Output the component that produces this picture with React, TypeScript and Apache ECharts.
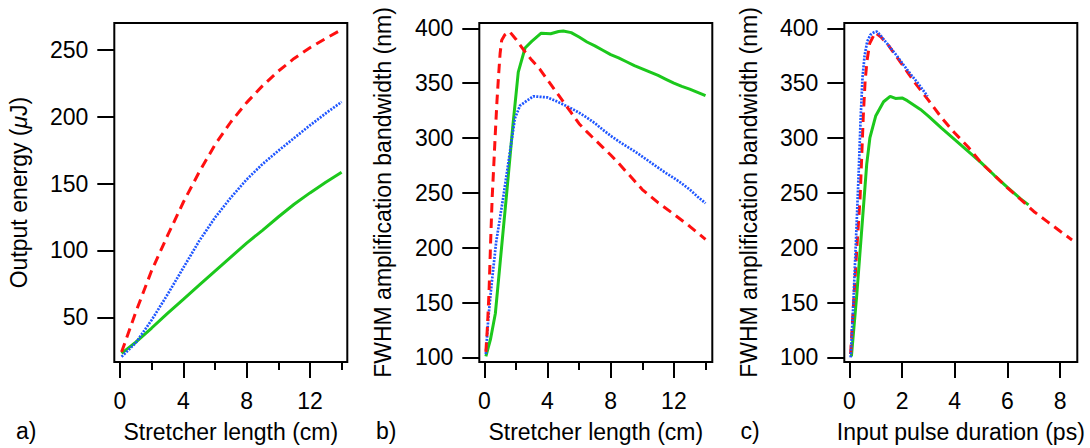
import React, { useEffect, useRef } from "react";
import * as echarts from "echarts";

// ---------- Panel a: output energy vs stretcher length ----------
const aX = [0.1, 1, 2, 3, 4, 5, 6, 7, 8, 9, 10, 11, 12, 13, 14];
const aRed = [24, 54, 85, 111, 136, 158.5, 179, 196, 210.5, 223, 234, 243.5, 251.5, 258.5, 265];
const aBlue = [20.5, 31, 48, 67, 87, 107, 124.5, 139.5, 153, 164.5, 174.5, 184, 193.5, 202.5, 211];
const aGreen = [23, 31.5, 42, 53, 63.5, 74, 84.5, 95, 105.5, 115, 125, 134.5, 143, 151, 158.5];

// ---------- Panel b: FWHM bandwidth vs stretcher length ----------
const bRedX = [0.1, 0.2, 0.3, 0.4, 0.5, 0.6, 0.7, 0.8, 0.9, 1.0, 1.1, 1.3, 1.6, 2.0, 2.5, 3.0, 3.5, 4.0, 4.5, 5.0, 5.5, 6.0, 6.5, 7.0, 7.5, 8.0, 8.5, 9.0, 9.5, 10, 11, 12, 13, 14];
const bRed = [105, 128, 160, 205, 246, 275, 305, 333, 356, 377, 389, 394, 397, 390, 380, 371, 363, 353, 343, 333, 323, 313, 305.5, 298.5, 291.5, 284.5, 277, 269, 261, 253, 241, 230.5, 219.5, 207.5];
const bBlueX = [0.1, 0.25, 0.45, 0.75, 1.2, 1.63, 1.94, 2.26, 2.7, 3.1, 3.5, 4.0, 4.5, 5.0, 5.5, 6.0, 6.5, 7.0, 7.5, 8.0, 8.5, 9.0, 9.5, 10, 10.5, 11, 11.5, 12, 12.5, 13, 13.5, 14];
const bBlue = [103, 135, 165, 205, 246, 288, 318, 329.5, 334, 338, 337.5, 337, 334, 330.5, 327, 323, 318.5, 313.5, 307.5, 302, 297, 292.5, 288, 283, 278, 273, 268, 263.5, 258.5, 253, 246.5, 240.5];
const bGreenX = [0.1, 0.4, 0.7, 1.0, 1.4, 1.8, 2.15, 2.58, 3.0, 3.6, 4.2, 4.7, 5.0, 5.5, 6.0, 6.5, 7.0, 7.5, 8.0, 8.5, 9.0, 9.5, 10, 10.5, 11, 11.5, 12, 12.5, 13, 13.5, 14];
const bGreen = [101, 117, 140, 186, 247, 310, 360, 382, 388, 395.5, 395, 397, 397.5, 396, 392, 387.5, 384, 380, 376, 373, 369.5, 366, 363, 360, 357, 353.5, 350, 347, 344.5, 341.5, 338.5];

// ---------- Panel c: FWHM bandwidth vs input pulse duration ----------
const cRedX = [0.05, 0.2, 0.3, 0.41, 0.53, 0.6, 0.67, 0.77, 0.98, 1.2, 1.5, 2.0, 2.5, 3.0, 3.5, 4.0, 4.5, 5.0, 5.5, 6.0, 6.5, 7.0, 7.5, 8.0, 8.45];
const cRed = [103, 165, 205, 246, 320, 352, 370, 386, 396, 392, 384, 367, 350, 334.5, 318.5, 304.5, 292, 277.5, 266, 254.5, 244, 233, 224, 215, 207];
const cBlueX = [0.05, 0.15, 0.25, 0.35, 0.43, 0.5, 0.58, 0.68, 0.8, 0.95, 1.05, 1.2, 1.5, 1.8, 2.2, 2.6, 2.97];
const cBlue = [100, 147, 205, 265, 318, 355, 375, 388, 394, 396.5, 397, 393, 384, 375, 362, 350, 338];
const cGreenX = [0.08, 0.28, 0.47, 0.66, 0.78, 1.0, 1.3, 1.55, 1.75, 2.0, 2.2, 2.7, 3.0, 3.5, 4.0, 4.5, 5.0, 5.5, 6.0, 6.5, 6.8];
const cGreen = [101, 156, 216, 276, 300, 320, 333, 338, 336, 336.5, 334, 326, 320, 309, 298.5, 288, 277.5, 266, 255, 244.5, 239];

// ---------- Axis ticks / labels ----------
const abXTicks = [0, 4, 8, 12];
const abXMinor = [2, 6, 10, 14];
const cXTicks = [0, 2, 4, 6, 8];
const aYTicks = [50, 100, 150, 200, 250];
const bcYTicks = [100, 150, 200, 250, 300, 350, 400];

const xTitleAB = "Stretcher length (cm)";
const xTitleC = "Input pulse duration (ps)";
const yTitleA = "Output energy ({i|μ}J)";
const yTitleBC = "FWHM amplification bandwidth (nm)";
const panelLabels = ["a)", "b)", "c)"];

const FONT = "'Liberation Sans', Arial, Helvetica, sans-serif";
const FS = 23;
const RED = "#ff1010";
const BLUE = "#1f56ff";
const GREEN = "#1cc81c";

const zip = (xs: number[], ys: number[]) => xs.map((x, i) => [x, ys[i]]);

function buildOption() {
  const grids = [
    { left: 114.3, top: 23, width: 233, height: 344 },
    { left: 479.3, top: 23, width: 233, height: 344 },
    { left: 844.3, top: 23, width: 233, height: 344 },
  ].map((g) => ({ ...g, show: true, borderColor: "#000", borderWidth: 2, backgroundColor: "transparent" }));

  const labelStyle = { fontSize: FS, color: "#000", fontFamily: FONT };
  const nameStyle = { fontSize: FS, color: "#000", fontFamily: FONT, rich: { i: { fontSize: FS, fontFamily: FONT, fontStyle: "italic", color: "#000" } } };

  const mainX = (gridIndex: number, min: number, max: number, ticks: number[], name: string) => ({
    type: "value",
    gridIndex,
    min,
    max,
    position: "bottom",
    axisLine: { show: false, onZero: false },
    axisTick: { show: true, length: 16, lineStyle: { color: "#000", width: 2 }, customValues: ticks },
    axisLabel: { show: true, margin: 27, customValues: ticks, ...labelStyle },
    splitLine: { show: false },
    name,
    nameLocation: "middle",
    nameGap: 58,
    nameTextStyle: nameStyle,
  });
  const minorX = (gridIndex: number, min: number, max: number, ticks: number[]) => ({
    type: "value",
    gridIndex,
    min,
    max,
    position: "bottom",
    axisLine: { show: false, onZero: false },
    axisTick: { show: true, length: 8, lineStyle: { color: "#000", width: 2 }, customValues: ticks },
    axisLabel: { show: false },
    splitLine: { show: false },
  });
  const mainY = (gridIndex: number, min: number, max: number, ticks: number[], name: string, gap: number) => ({
    type: "value",
    gridIndex,
    min,
    max,
    position: "left",
    axisLine: { show: false, onZero: false },
    axisTick: { show: true, length: 17, lineStyle: { color: "#000", width: 2 }, customValues: ticks },
    axisLabel: { show: true, margin: 26, customValues: ticks, ...labelStyle },
    splitLine: { show: false },
    name,
    nameLocation: "middle",
    nameGap: gap,
    nameTextStyle: nameStyle,
  });

  const xAxis = [
    mainX(0, -0.36, 14.36, abXTicks, xTitleAB),
    minorX(0, -0.36, 14.36, abXMinor),
    mainX(1, -0.316, 14.43, abXTicks, xTitleAB),
    minorX(1, -0.316, 14.43, abXMinor),
    mainX(2, -0.19, 8.65, cXTicks, xTitleC),
  ];
  const yAxis = [
    mainY(0, 16.6, 270, aYTicks, yTitleA, 84),
    mainY(1, 95.8, 404.8, bcYTicks, yTitleBC, 85),
    mainY(2, 95.8, 404.8, bcYTicks, yTitleBC, 84),
  ];

  const red = { color: RED, width: 3, type: [9.5, 6] as number[] };
  const blue = { color: BLUE, width: 2.7, type: [2, 1.3] as number[] };
  const green = { color: GREEN, width: 3, type: "solid" };

  const ser = (xi: number, yi: number, data: number[][], ls: any, z: number) => ({
    type: "line",
    xAxisIndex: xi,
    yAxisIndex: yi,
    data,
    showSymbol: false,
    symbol: "none",
    lineStyle: ls,
    itemStyle: { color: ls.color },
    z,
    clip: true,
  });

  const series = [
    ser(0, 0, zip(aX, aGreen), green, 2),
    ser(0, 0, zip(aX, aBlue), blue, 3),
    ser(0, 0, zip(aX, aRed), red, 4),
    ser(2, 1, zip(bGreenX, bGreen), green, 2),
    ser(2, 1, zip(bBlueX, bBlue), blue, 3),
    ser(2, 1, zip(bRedX, bRed), red, 4),
    ser(4, 2, zip(cGreenX, cGreen), green, 2),
    ser(4, 2, zip(cRedX, cRed), red, 3),
    ser(4, 2, zip(cBlueX, cBlue), blue, 4),
  ];

  const labelLefts = [16, 376, 740.5];
  const graphic = panelLabels.map((t, i) => ({
    type: "text",
    left: labelLefts[i],
    top: 419,
    style: { text: t, font: `${FS}px ${FONT}`, fill: "#000" },
  }));

  return {
    animation: false,
    backgroundColor: "#fff",
    grid: grids,
    xAxis,
    yAxis,
    series,
    graphic,
  };
}

export default function App() {
  const ref = useRef<HTMLDivElement>(null);
  useEffect(() => {
    if (!ref.current) return;
    const chart = echarts.init(ref.current, null, { renderer: "svg" });
    chart.setOption(buildOption() as any);
    return () => chart.dispose();
  }, []);
  return (
    <div
      ref={ref}
      style={{ position: "fixed", left: 0, top: 0, width: 1090, height: 448, background: "#fff" }}
    />
  );
}
